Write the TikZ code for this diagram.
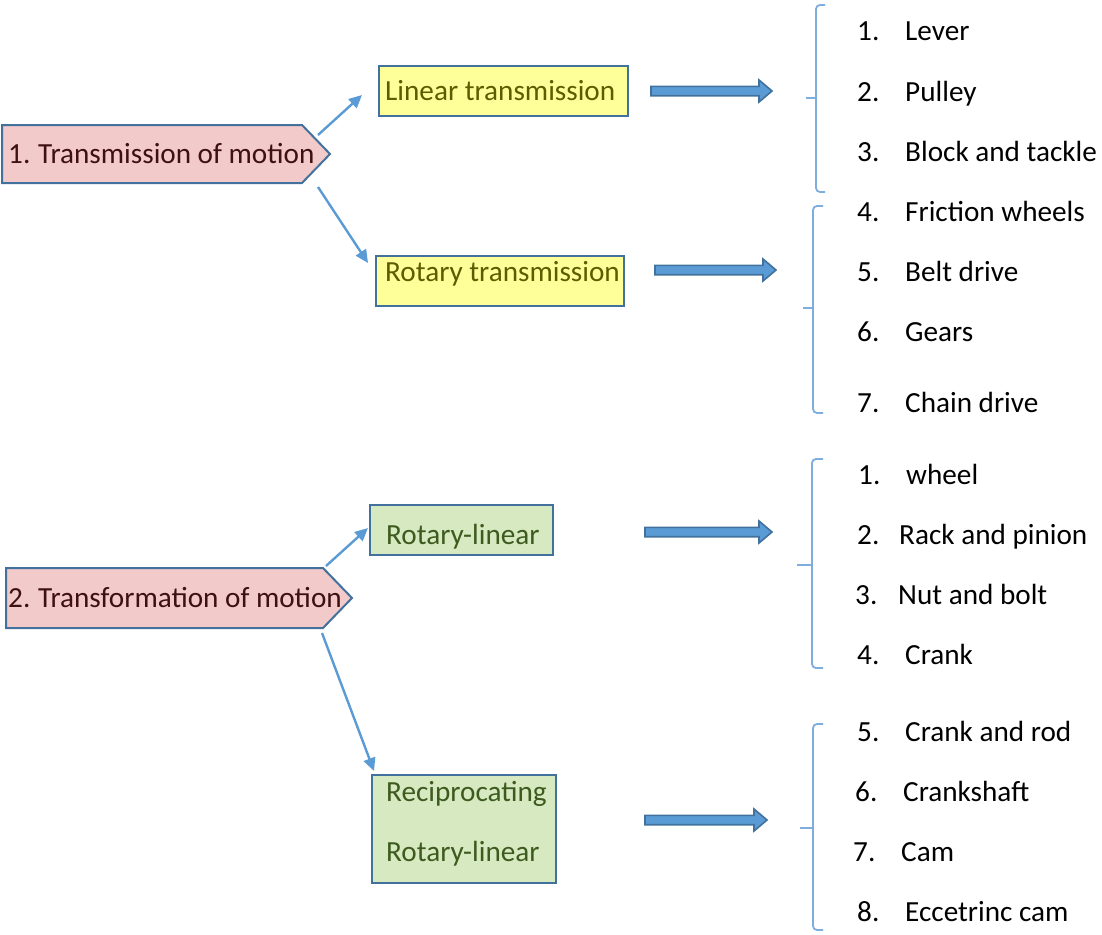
\documentclass[tikz,border=0pt]{standalone}
\usepackage{fontspec}
\setmainfont{Carlito}
\usetikzlibrary{arrows.meta}
\definecolor{bord}{HTML}{41719C}
\definecolor{pinkf}{HTML}{F2CACA}
\definecolor{yellf}{HTML}{FFFF99}
\definecolor{greenf}{HTML}{D7E9C0}
\definecolor{pinkt}{HTML}{3F1010}
\definecolor{yellt}{HTML}{5C5C00}
\definecolor{greent}{HTML}{3D5A1F}
\definecolor{arr}{HTML}{5B9BD5}
\definecolor{brace}{HTML}{7FADDD}
\tikzset{
  txt/.style={font=\fontsize{29.2}{34}\selectfont, inner sep=0pt, anchor=base west},
  pent/.style={draw=bord, fill=pinkf, line width=2pt, line join=miter},
  ybox/.style={draw=bord, fill=yellf, line width=2.2pt, inner sep=0pt},
  gbox/.style={draw=bord, fill=greenf, line width=2.2pt, inner sep=0pt},
  thin/.style={draw=arr, line width=2.4pt, -{Triangle[length=13pt,width=12pt]}},
  blk/.style={draw=bord, fill=arr, line width=1.6pt, line join=miter},
  brc/.style={draw=brace, line width=1.8pt, rounded corners=4pt},
}
\newcommand{\blockarr}[3]{%
  \draw[blk] (#1,#3-4.7) -- (#2-13,#3-4.7) -- (#2-13,#3-11) -- (#2,#3) -- (#2-13,#3+11) -- (#2-13,#3+4.7) -- (#1,#3+4.7) -- cycle;}
\newcommand{\brk}[6]{%
  \draw[brc] (#3,#4) -- (#1,#4) -- (#1,#5) -- (#1,#6) -- (#3,#6);
  \draw[brc] (#2,#5) -- (#1,#5);}
\begin{document}
\begin{tikzpicture}[x=1pt,y=-1pt]
\useasboundingbox (0,0) rectangle (1102,934);

% pentagons
\draw[pent] (2,125) -- (302,125) -- (330,154) -- (302,183) -- (2,183) -- cycle;
\node[txt, text=pinkt] (p1) at (8,163) {1.\kern-1pt{} Transmission of motion};
\draw[pent] (6,568) -- (323,568) -- (352,598) -- (323,628) -- (6,628) -- cycle;
\node[txt, text=pinkt] (p2) at (8,607) {2.\kern-1pt{} Transformation of motion};

% boxes
\node[ybox, minimum width=249pt, minimum height=50pt] (lt) at (503.5,91) {};
\node[txt, text=yellt] (ltt) at (385,100) {Linear transmission};
\node[ybox, minimum width=248pt, minimum height=50pt] (rt) at (500,281) {};
\node[txt, text=yellt] (rtt) at (385,281) {Rotary transmission};
\node[gbox, minimum width=183pt, minimum height=50pt] (rl) at (461.5,530) {};
\node[txt, text=greent] (rlt) at (386,544) {Rotary-linear};
\node[gbox, minimum width=184pt, minimum height=108pt] (rc) at (464,829) {};
\node[txt, text=greent] (rc1) at (386,801) {Reciprocating};
\node[txt, text=greent] (rc2) at (386,861) {Rotary-linear};

% thin arrows
\coordinate (a1s) at (318,135); \coordinate (a1e) at (362,95);
\coordinate (a2s) at (318,187); \coordinate (a2e) at (368,263);
\coordinate (a3s) at (326,566); \coordinate (a3e) at (368,528);
\coordinate (a4s) at (322,633); \coordinate (a4e) at (374,771);
\draw[thin] (a1s) -- (a1e);
\draw[thin] (a2s) -- (a2e);
\draw[thin] (a3s) -- (a3e);
\draw[thin] (a4s) -- (a4e);

% block arrows
\blockarr{651}{772}{91}
\blockarr{655}{776}{270}
\blockarr{645}{772}{532}
\blockarr{645}{767}{820}

% braces
\brk{816}{806}{825}{5}{98}{192}
\brk{813}{803}{823}{206}{308}{413}
\brk{812}{797}{823}{459}{565}{668}
\brk{813}{800}{823}{724}{828}{930}

% lists
\node[txt] (n1) at (857,41) {1.};  \node[txt] (t1) at (905,41) {Lever};
\node[txt] (n2) at (857,101) {2.}; \node[txt] (t2) at (905,101) {Pulley};
\node[txt] (n3) at (857,161) {3.}; \node[txt] (t3) at (905,161) {Block and tackle};
\node[txt] (n4) at (857,221) {4.}; \node[txt] (t4) at (905,221) {Friction wheels};
\node[txt] (n5) at (857,281) {5.}; \node[txt] (t5) at (905,281) {Belt drive};
\node[txt] (n6) at (857,341) {6.}; \node[txt] (t6) at (905,341) {Gears};
\node[txt] (n7) at (857,412) {7.}; \node[txt] (t7) at (905,412) {Chain drive};

\node[txt] (m1) at (858,484) {1.}; \node[txt] (s1) at (906,484) {wheel};
\node[txt] (m2) at (857,544) {2.}; \node[txt] (s2) at (899,544) {Rack and pinion};
\node[txt] (m3) at (855,604) {3.}; \node[txt] (s3) at (898,604) {Nut and bolt};
\node[txt] (m4) at (857,664) {4.}; \node[txt] (s4) at (905,664) {Crank};
\node[txt] (m5) at (857,741) {5.}; \node[txt] (s5) at (905,741) {Crank and rod};
\node[txt] (m6) at (855,801) {6.}; \node[txt] (s6) at (903,801) {Crankshaft};
\node[txt] (m7) at (853,861) {7.}; \node[txt] (s7) at (901,861) {Cam};
\node[txt] (m8) at (857,921) {8.}; \node[txt] (s8) at (905,921) {Eccetrinc cam};
\end{tikzpicture}
\end{document}
